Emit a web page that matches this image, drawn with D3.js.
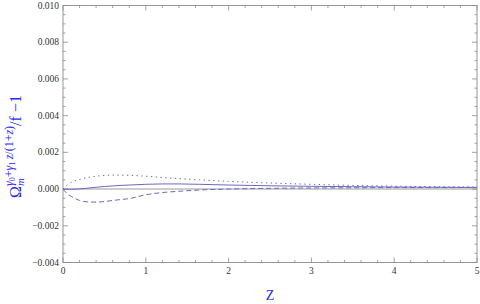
<!DOCTYPE html>
<html>
<head>
<meta charset="utf-8">
<script src="https://cdn.jsdelivr.net/npm/d3@7"></script>
<style>
  body { margin: 0; background: #fff; }
  svg { display: block; }
</style>
</head>
<body>
<div id="chart-area"></div>
<script>
// values
var zValues = [0, 0.05, 0.1, 0.2, 0.3, 0.4, 0.5, 0.6, 0.7, 0.8, 1.0, 1.2, 1.4, 1.65, 2.0, 2.5, 3.0, 3.5, 4.0, 4.5, 5.0]
var dottedValues = [0, 0.00022, 0.00036, 0.00052, 0.00063, 0.0007, 0.00074, 0.00076, 0.00076, 0.00075, 0.0007, 0.00063, 0.00057, 0.0005, 0.00042, 0.00033, 0.00026, 0.0002, 0.00016, 0.00013, 0.00011]
var solidValues = [0, -0.00001, -0.00001, 0.00001, 0.00005, 0.0001, 0.00014, 0.00017, 0.0002, 0.00022, 0.00026, 0.00028, 0.00028, 0.00026, 0.00022, 0.00018, 0.00015, 0.00013, 0.00011, 0.0001, 0.00009]
var dashedValues = [0, -0.00025, -0.0004, -0.00062, -0.0007, -0.00071, -0.00068, -0.00062, -0.00057, -0.00052, -0.00031, -0.00019, -0.00012, -0.00005, 0, 0.00004, 0.00006, 0.00007, 0.00008, 0.00008, 0.00009]

var xTicks = [0, 1, 2, 3, 4, 5]
var yTicks = [-0.004, -0.002, 0, 0.002, 0.004, 0.006, 0.008, 0.010]

var W = 480, H = 304
var margin = { left: 63, right: 3, top: 5.5, bottom: 41.5 }
var width = W - margin.left - margin.right
var height = H - margin.top - margin.bottom

var serif = 'Liberation Serif, DejaVu Serif, serif'
var frameColor = '#8c8c8c'
var curveColor = '#6a6abc'
var labelBlue = '#2b2bf5'

var svg = d3.select('#chart-area')
    .append('svg')
        .attr('width', W)
        .attr('height', H)

var g = svg.append('g')
    .attr('transform', `translate(${margin.left}, ${margin.top})`)

var x = d3.scaleLinear().domain([0, 5]).range([0, width])
var y = d3.scaleLinear().domain([-0.004, 0.010]).range([height, 0])

var xMinor = d3.range(0, 5.0001, 0.2)
var yMinor = d3.range(-0.004, 0.01001, 0.0005)

function isMajor (v, list) {
    return list.some(t => Math.abs(t - v) < 1e-9)
}

// zero line
g.append('line')
    .attr('x1', 0).attr('x2', width)
    .attr('y1', y(0)).attr('y2', y(0))
    .attr('stroke', '#bdbdbd')
    .attr('stroke-width', 1.6)

// frame ticks, all pointing inward
var tickG = g.append('g')
    .attr('stroke', frameColor)
    .attr('stroke-width', 0.8)

xMinor.forEach(v => {
    var len = isMajor(v, xTicks) ? 5 : 2.5
    tickG.append('line').attr('x1', x(v)).attr('x2', x(v)).attr('y1', height).attr('y2', height - len)
    tickG.append('line').attr('x1', x(v)).attr('x2', x(v)).attr('y1', 0).attr('y2', len)
})
yMinor.forEach(v => {
    var len = isMajor(v, yTicks) ? 5 : 2.5
    tickG.append('line').attr('y1', y(v)).attr('y2', y(v)).attr('x1', 0).attr('x2', len)
    tickG.append('line').attr('y1', y(v)).attr('y2', y(v)).attr('x1', width).attr('x2', width - len)
})

// frame
g.append('rect')
    .attr('x', 0).attr('y', 0)
    .attr('width', width).attr('height', height)
    .attr('fill', 'none')
    .attr('stroke', frameColor)
    .attr('stroke-width', 0.9)

// tick labels
g.selectAll('.xlab')
    .data(xTicks)
    .enter().append('text')
        .attr('class', 'xlab')
        .attr('x', d => x(d))
        .attr('y', height + 11.5)
        .attr('text-anchor', 'middle')
        .attr('font-family', serif)
        .attr('font-size', '9.5px')
        .attr('fill', '#333')
        .text(d => d)

g.selectAll('.ylab')
    .data(yTicks)
    .enter().append('text')
        .attr('class', 'ylab')
        .attr('x', -4)
        .attr('y', d => y(d))
        .attr('dy', '0.33em')
        .attr('text-anchor', 'end')
        .attr('font-family', serif)
        .attr('font-size', '9.5px')
        .attr('fill', '#333')
        .text(d => d3.format('.3f')(d).replace('-', '\u2212'))

// curves
var line = d3.line()
    .x(d => x(d[0]))
    .y(d => y(d[1]))
    .curve(d3.curveMonotoneX)

var series = [
    { values: dottedValues, dash: '1.4,3.4' },
    { values: solidValues, dash: null },
    { values: dashedValues, dash: '5,3' }
]

series.forEach(s => {
    g.append('path')
        .datum(zValues.map((z, i) => [z, s.values[i]]))
        .attr('d', line)
        .attr('fill', 'none')
        .attr('stroke', curveColor)
        .attr('stroke-width', 1)
        .attr('stroke-dasharray', s.dash)
})

// x label
svg.append('text')
    .attr('x', 270)
    .attr('y', 300)
    .attr('text-anchor', 'middle')
    .attr('font-family', serif)
    .attr('font-size', '14px')
    .attr('fill', labelBlue)
    .text('Z')

// y label: Omega_m^(gamma0 + gamma1 z/(1+z)) / f - 1
var yl = svg.append('text')
    .attr('transform', 'translate(21, 198) rotate(-90)')
    .attr('font-family', serif)
    .attr('fill', labelBlue)
    .attr('font-size', '16px')

yl.append('tspan').attr('x', 0).attr('y', 0).text('\u03A9')
yl.append('tspan').attr('x', 12).attr('y', 3).attr('font-size', '11px').attr('font-style', 'italic').text('m')
yl.append('tspan').attr('x', 12).attr('y', -8).attr('font-size', '12px').attr('font-style', 'italic').text('\u03B3')
yl.append('tspan').attr('y', -6).attr('font-size', '8px').text('0')
yl.append('tspan').attr('y', -8).attr('font-size', '12px').text('+')
yl.append('tspan').attr('font-size', '12px').attr('font-style', 'italic').text('\u03B3')
yl.append('tspan').attr('y', -6).attr('font-size', '8px').text('1')
yl.append('tspan').attr('y', -8).attr('font-size', '12px').attr('font-style', 'italic').text('\u2009z')
yl.append('tspan').attr('font-size', '12px').text('/(1+')
yl.append('tspan').attr('font-size', '12px').attr('font-style', 'italic').text('z')
yl.append('tspan').attr('font-size', '12px').text(')')
yl.append('tspan').attr('y', 0).text('/f \u22121')
</script>
</body>
</html>
